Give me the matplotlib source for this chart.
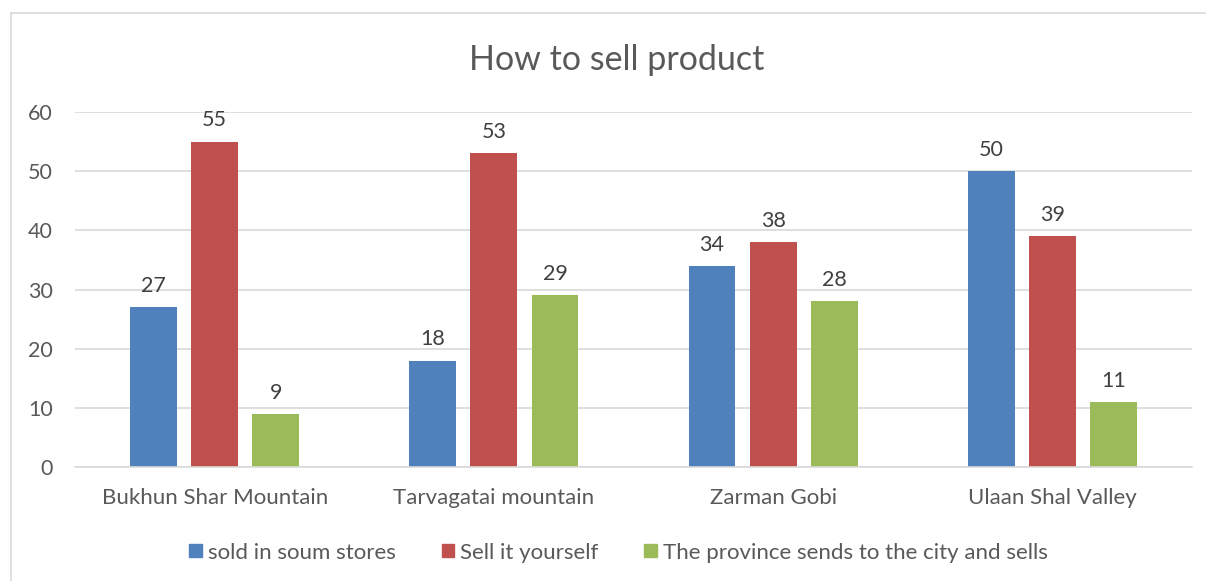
import numpy as np
import matplotlib.pyplot as plt
from matplotlib.lines import Line2D

plt.rcParams['font.family'] = ['Lato', 'DejaVu Sans']

regions = ['Bukhun Shar Mountain', 'Tarvagatai mountain', 'Zarman Gobi', 'Ulaan Shal Valley']
series_names = ['sold in soum stores', 'Sell it yourself', 'The province sends to the city and sells']
soum_stores = [27, 18, 34, 50]
sell_yourself = [55, 53, 38, 39]
province_city = [9, 29, 28, 11]

colors = ['#4F81BD', '#C0504D', '#9BBB59']
text_color = '#595959'
grid_color = '#D9D9D9'

fig = plt.figure(figsize=(12.06, 5.81), dpi=100)
ax = fig.add_axes([0.0622, 0.1962, 0.9262, 0.611])

x = np.arange(len(regions))
bar_w = 0.168
pitch = 0.219
for i, (vals, c, name) in enumerate(zip([soum_stores, sell_yourself, province_city], colors, series_names)):
    pos = x + (i - 1) * pitch
    bars = ax.bar(pos, vals, width=bar_w, color=c, label=name, zorder=2)
    for b, v in zip(bars, vals):
        ax.annotate(str(v), (b.get_x() + b.get_width() / 2, v), xytext=(0, 8),
                    textcoords='offset points', ha='center', va='bottom',
                    fontsize=15.5, color='#404040')

ax.set_xlim(-0.5, 3.5)
ax.set_ylim(0, 60)
ax.set_yticks(range(0, 61, 10))
ax.yaxis.grid(True, color=grid_color, linewidth=1.2, zorder=0)
ax.set_axisbelow(True)
for s in ['top', 'right', 'left']:
    ax.spines[s].set_visible(False)
ax.spines['bottom'].set_color(grid_color)
ax.spines['bottom'].set_linewidth(1.2)
ax.tick_params(axis='both', length=0, labelsize=15.5, colors=text_color)
ax.tick_params(axis='x', labelsize=16, pad=15)
ax.tick_params(axis='y', pad=16)
ax.set_xticks(x)
ax.set_xticklabels(regions)

fig.text(0.511, 0.897, 'How to sell product', ha='center', va='center',
         fontsize=24.5, color=text_color)

handles = [plt.Rectangle((0, 0), 1, 1, color=c) for c in colors]
fig.legend(handles, series_names, loc='center', bbox_to_anchor=(0.513, 0.049), ncol=3,
           frameon=False, fontsize=16, labelcolor=text_color, handlelength=0.55,
           handleheight=0.55, handletextpad=0.3, columnspacing=2.05)

# chart frame: only top and left edges are visible
fig.add_artist(Line2D([0.0091, 1.0], [0.9776, 0.9776], color=grid_color, linewidth=1.2))
fig.add_artist(Line2D([0.0091, 0.0091], [0.0, 0.9776], color=grid_color, linewidth=1.2))

fig.savefig('out.png', dpi=100, facecolor='white')
